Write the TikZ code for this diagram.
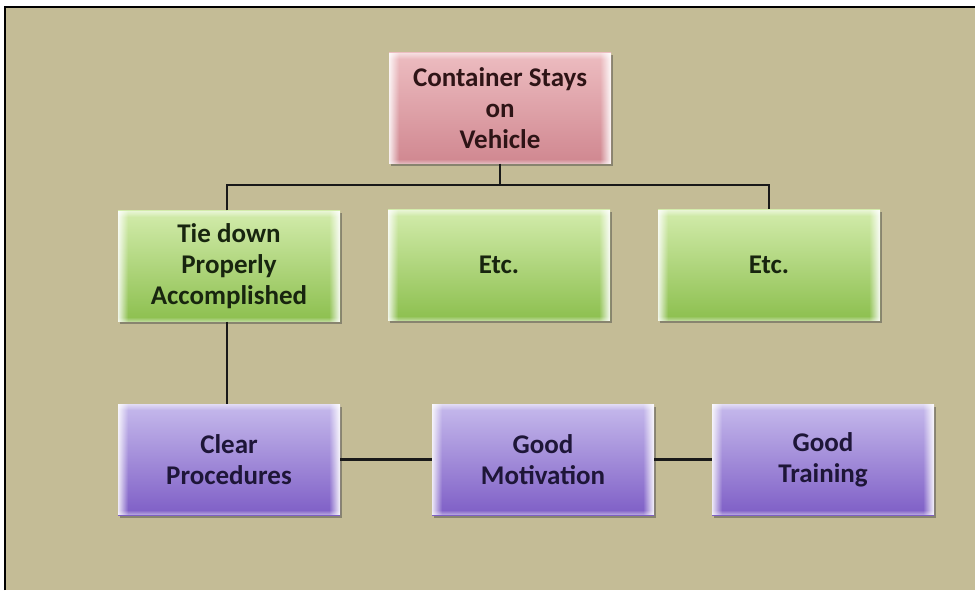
\documentclass[tikz,border=0pt]{standalone}
\usepackage{fontspec}
\setmainfont{Carlito}
\usetikzlibrary{shadows}

\definecolor{canvas}{HTML}{C4BC96}
\definecolor{rtop}{HTML}{EDBDC1}
\definecolor{rmid}{HTML}{E3A2A9}
\definecolor{rbot}{HTML}{D08790}
\definecolor{rtext}{HTML}{2E1416}
\definecolor{gtop}{HTML}{D3ECAC}
\definecolor{gmid}{HTML}{B6DB84}
\definecolor{gbot}{HTML}{8CBF4E}
\definecolor{gtext}{HTML}{18250F}
\definecolor{ptop}{HTML}{C6BAEC}
\definecolor{pmid}{HTML}{A996DE}
\definecolor{pbot}{HTML}{7E5EC6}
\definecolor{ptext}{HTML}{1E1638}

% glassy bevel: light side bands fading inwards, a top sheen and a bottom glint
\newcommand\tilebevel{%
  \foreach \k in {0,...,9}{%
    \pgfmathsetmacro\op{0.85*(1-\k/10)}
    \fill[white, fill opacity=\op]
      ([xshift=\k pt]path picture bounding box.south west) rectangle
      ([xshift=\k pt+1pt]path picture bounding box.north west);
    \fill[white, fill opacity=\op]
      ([xshift=-\k pt]path picture bounding box.south east) rectangle
      ([xshift=-\k pt-1pt]path picture bounding box.north east);
  }
  \foreach \k in {0,...,5}{%
    \pgfmathsetmacro\op{0.5*(1-\k/6)}
    \fill[white, fill opacity=\op]
      ([yshift=-\k pt]path picture bounding box.north west) rectangle
      ([yshift=-\k pt-1pt]path picture bounding box.north east);
  }
  \foreach \k in {0,...,3}{%
    \pgfmathsetmacro\op{0.4*(1-\k/4)}
    \fill[white, fill opacity=\op]
      ([yshift=\k pt]path picture bounding box.south west) rectangle
      ([yshift=\k pt+1pt]path picture bounding box.south east);
  }
}

\tikzset{
  tile/.style={rectangle, inner sep=0pt, minimum width=222pt, minimum height=111pt,
    align=center, font=\bfseries\fontsize{27}{31}\selectfont,
    drop shadow={shadow xshift=1.5pt, shadow yshift=-2.5pt, opacity=.45, fill=black!75},
    path picture={\tilebevel}},
  redtile/.style={tile, top color=rtop, middle color=rmid, bottom color=rbot, text=rtext},
  greentile/.style={tile, top color=gtop, middle color=gmid, bottom color=gbot, text=gtext},
  purpletile/.style={tile, top color=ptop, middle color=pmid, bottom color=pbot, text=ptext},
  link/.style={draw=black!90, line width=2.8pt},
}

\begin{document}
\begin{tikzpicture}[x=1pt, y=-1pt]
  \useasboundingbox (0,0) rectangle (975,590);
  \fill[white] (0,0) rectangle (975,590);
  \fill[canvas] (6,8) rectangle (975,590);
  \draw[black, line width=2pt] (5,590) -- (5,7) -- (975,7);

  % tree
  \node[redtile] (root) at (500,108) {Container Stays\\on\\Vehicle};

  \node[greentile] (tie) at (229,266) {Tie down\\Properly\\Accomplished};
  \node[greentile] (etc1) at (499,265) {Etc.};
  \node[greentile] (etc2) at (769,265) {Etc.};

  \node[purpletile] (proc) at (229,459.5) {Clear\\Procedures};
  \node[purpletile] (motiv) at (543,459.5) {Good\\Motivation};
  \node[purpletile] (train) at (823,459.5) {Good\\Training};

  % connectors
  \coordinate (bus) at (500,185);
  \draw[link] (root.south) -- (bus);
  \draw[link] (tie.north -| 227,0) |- (bus) -| (etc2.north);
  \draw[link] (tie.south -| 227,0) -- (proc.north -| 227,0);
  \draw[link] (proc.east) -- (motiv.west);
  \draw[link] (motiv.east) -- (train.west);
\end{tikzpicture}
\end{document}
